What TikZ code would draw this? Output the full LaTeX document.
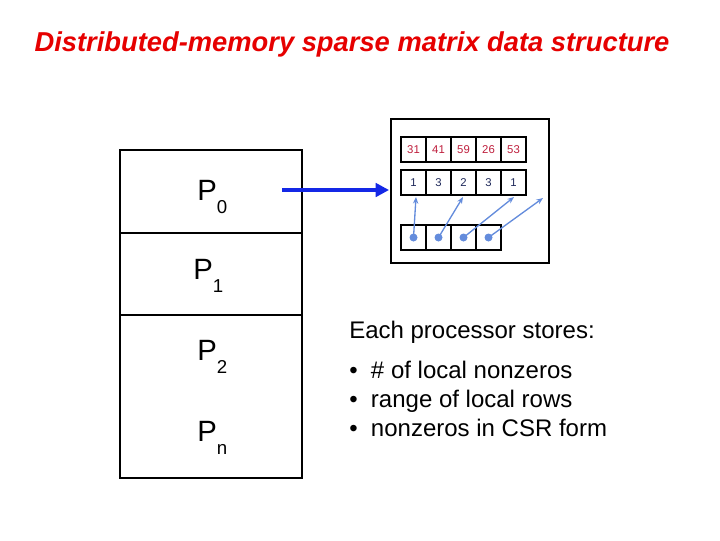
\documentclass[tikz,border=0pt]{standalone}
\usepackage{fontspec}
\setmainfont{Liberation Sans}
\usetikzlibrary{arrows.meta}
\definecolor{tred}{RGB}{230,0,0}
\definecolor{nred}{RGB}{190,30,60}
\definecolor{nblue}{RGB}{30,40,90}
\definecolor{lblue}{RGB}{100,140,220}
\definecolor{abl}{RGB}{20,40,230}
\begin{document}
\begin{tikzpicture}[x=0.75pt,y=-0.75pt,
  cell/.style={draw,line width=1.2pt,minimum width=18.75pt,minimum height=18.75pt,inner sep=0pt,font=\fontsize{8.5}{9}\selectfont},
  plabel/.style={font=\fontsize{22}{24}\selectfont,anchor=base west,inner sep=0pt},
  ptr/.style={lblue,line width=1pt,-{Stealth[length=5pt,width=4pt]}}]
\useasboundingbox (0,0) rectangle (720,540);
\node[tred,font=\fontsize{20.5}{24}\selectfont\bfseries\itshape] (title) at (352,44) {Distributed-memory sparse matrix data structure};
\draw[line width=1.5pt] (120,150) rectangle (302,478);
\draw[line width=1.5pt] (120,233) -- (302,233);
\draw[line width=1.5pt] (120,315) -- (302,315);
\node[plabel] (p0) at (197,200) {P\raisebox{-0.45em}{\fontsize{14}{16}\selectfont 0}};
\node[plabel] (p1) at (193,279) {P\raisebox{-0.45em}{\fontsize{14}{16}\selectfont 1}};
\node[plabel] (p2) at (197,360) {P\raisebox{-0.45em}{\fontsize{14}{16}\selectfont 2}};
\node[plabel] (pn) at (197,441) {P\raisebox{-0.45em}{\fontsize{14}{16}\selectfont n}};
\draw[line width=2pt] (391,119) rectangle (549,263);
\coordinate (astart) at (282,190);
\node[inner sep=0pt] (box) at (390,190) {};
\draw[abl,line width=3.5pt,-{Triangle[length=10pt,width=10pt]}] (astart) -- (box);
\foreach \v [count=\i] in {31,41,59,26,53}{
  \node[cell] (v\i) at (401+25*\i-12.5,149.5) {\textcolor{nred}{\v}};
}
\foreach \v [count=\i] in {1,3,2,3,1}{
  \node[cell] (c\i) at (401+25*\i-12.5,182.5) {\textcolor{nblue}{\v}};
}
\foreach \i in {1,...,4}{
  \node[cell] (r\i) at (401+25*\i-12.5,237.5) {};
  \fill[lblue] (r\i) circle (3pt);
}
\coordinate (e4) at (543,198);
\draw[ptr] (r1.center) -- (416,197);
\draw[ptr] (r2.center) -- (463,197);
\draw[ptr] (r3.center) -- (514,197);
\draw[ptr] (r4.center) -- (e4);
\node[anchor=base west,inner sep=0pt,font=\fontsize{18}{21}\selectfont] (hd) at (349,338) {Each processor stores:};
\node[anchor=north west,font=\fontsize{18}{21.75}\selectfont,align=left,inner sep=0pt] (list) at (349,361)
 {•\ \ \# of local nonzeros\\ •\ \ range of local rows\\ •\ \ nonzeros in CSR form};
\end{tikzpicture}
\end{document}
